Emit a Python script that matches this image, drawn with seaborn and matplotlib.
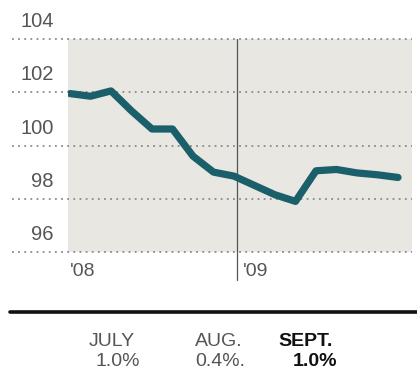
import matplotlib
matplotlib.use("Agg")
import matplotlib.pyplot as plt
import matplotlib.transforms as mtransforms
import seaborn as sns
import pandas as pd

# Monthly index, May 2008 through September 2009
months = ["2008-05", "2008-06", "2008-07", "2008-08", "2008-09", "2008-10",
          "2008-11", "2008-12", "2009-01", "2009-02", "2009-03", "2009-04",
          "2009-05", "2009-06", "2009-07", "2009-08", "2009-09"]
index_values = [101.95, 101.85, 102.05, 101.3, 100.62, 100.62, 99.6, 99.0,
                98.85, 98.5, 98.15, 97.9, 99.05, 99.1, 98.97, 98.9, 98.8]

y_ticks = [96, 98, 100, 102, 104]
year_labels = ["'08", "'09"]
year_positions = [0, 8]

change_months = ["JULY", "AUG.", "SEPT."]
change_values = ["1.0%", "0.4%.", "1.0%"]

df = pd.DataFrame({"t": range(len(months)), "value": index_values})

W, H = 417, 379
sns.set_theme(style="white")
plt.rcParams["font.family"] = ["Liberation Sans", "DejaVu Sans"]

fig = plt.figure(figsize=(W / 100, H / 100), dpi=100)
fig.patch.set_facecolor("white")

left, right, top, bottom = 68, 412, 39, 252
ax = fig.add_axes([left / W, 1 - bottom / H, (right - left) / W, (bottom - top) / H])
ax.set_facecolor("#e8e7e2")
for s in ax.spines.values():
    s.set_visible(False)

step = 20.5
ax.set_xlim(-2 / step, (right - left - 2) / step)
ax.set_ylim(96, 104)

# dotted gridlines run out past the plot area to the left
blend = mtransforms.blended_transform_factory(fig.transFigure, ax.transData)
for v in y_ticks:
    ax.plot([12 / W, right / W], [v, v], transform=blend, clip_on=False,
            color="#8a8a8a", lw=1.3, linestyle=(0, (1, 2.4)), zorder=1)
    ax.text(54 / W, v + 0.3, str(v), transform=blend, ha="right", va="bottom",
            fontsize=14.5, color="#555555")

# year divider
ax.plot([8.15, 8.15], [104, 104 - (280 - top) / ((bottom - top) / 8)],
        color="#555555", lw=0.9, clip_on=False, zorder=2)

sns.lineplot(data=df, x="t", y="value", ax=ax, color="#1b5f6b", lw=5.2,
             solid_capstyle="round", solid_joinstyle="round", zorder=3)
ax.set_xlabel("")
ax.set_ylabel("")
ax.set_xticks([])
ax.set_yticks([])

# year labels under the plot
for lab, pos in zip(year_labels, year_positions):
    xpix = 70 if pos == 0 else 243
    fig.text(xpix / W, 1 - 271 / H, lab, ha="left", va="center",
             fontsize=14, color="#555555")

# heavy rule above the monthly changes
fig.add_artist(plt.Line2D([10 / W, 1.0], [1 - 312 / H] * 2, color="#111111",
                          lw=2.6, transform=fig.transFigure))

col_x = [112, 219, 306]
val_x = [118, 220, 315]
for i, (m, c) in enumerate(zip(change_months, change_values)):
    bold = i == len(change_months) - 1
    color = "#111111" if bold else "#555555"
    weight = "bold" if bold else "normal"
    fig.text(col_x[i] / W, 1 - 342 / H, m, ha="center", va="center",
             fontsize=14, color=color, fontweight=weight)
    fig.text(val_x[i] / W, 1 - 361 / H, c, ha="center", va="center",
             fontsize=14, color=color, fontweight=weight)

fig.savefig("out.png", dpi=100)
